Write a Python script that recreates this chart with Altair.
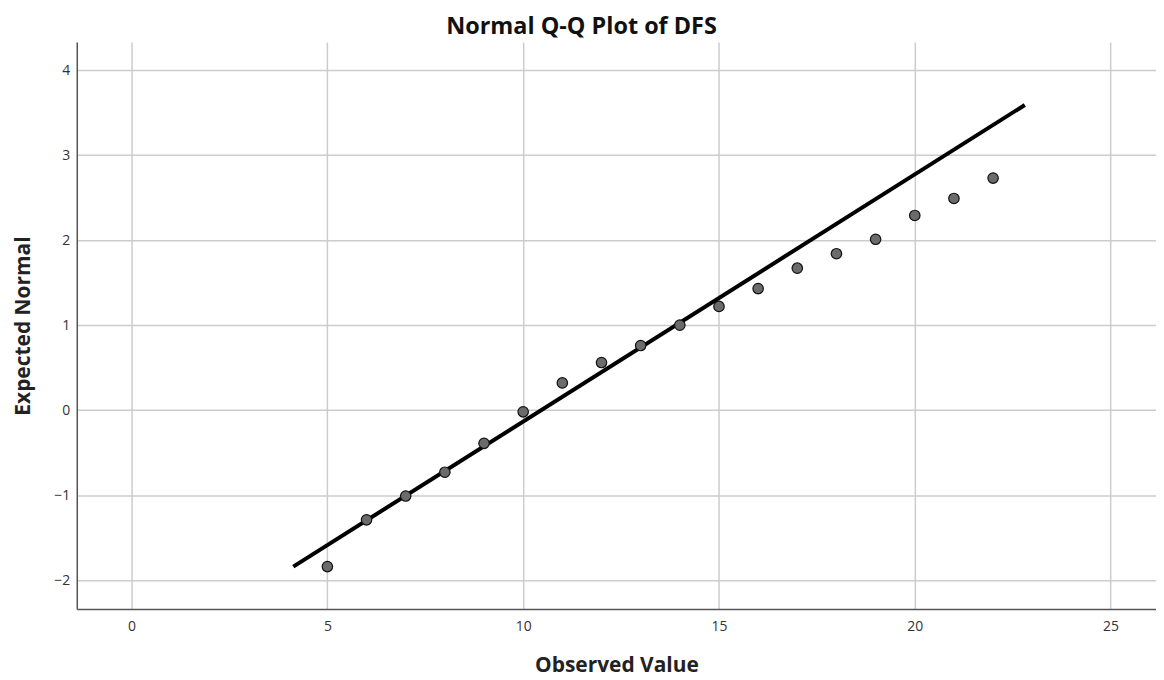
import altair as alt
import pandas as pd

observed = [5, 6, 7, 8, 9, 10, 11, 12, 13, 14, 15, 16, 17, 18, 19, 20, 21, 22]
expected = [-1.84, -1.29, -1.01, -0.73, -0.39, -0.02, 0.32, 0.56, 0.76, 1.00,
            1.22, 1.43, 1.67, 1.84, 2.01, 2.29, 2.49, 2.73]
line_x = [4.13, 22.81]
line_y = [-1.84, 3.59]

pts = pd.DataFrame({"obs": observed, "exp": expected})
ln = pd.DataFrame({"obs": line_x, "exp": line_y})

FONT = "Open Sans"
xs = alt.Scale(domain=[-1.4, 26.16], nice=False, zero=False)
ys = alt.Scale(domain=[-2.34, 4.33], nice=False, zero=False)

common = dict(grid=True, ticks=False, labelFontSize=14, titleFontSize=21,
              labelColor="#333333", titleColor="#222222", labelFont=FONT,
              titleFont=FONT, titleFontWeight="bold", domainColor="#555555",
              domainWidth=1.5, gridColor="#cccccc", gridWidth=1.5, format="d")
xax = alt.Axis(values=[0, 5, 10, 15, 20, 25], title="Observed Value",
               labelPadding=10, titlePadding=22, **common)
yax = alt.Axis(values=[-2, -1, 0, 1, 2, 3, 4], title="Expected Normal",
               labelPadding=7, titlePadding=20, **common)

line = alt.Chart(ln).mark_line(color="black", strokeWidth=4, clip=True).encode(
    x=alt.X("obs:Q", scale=xs, axis=xax),
    y=alt.Y("exp:Q", scale=ys, axis=yax),
)
points = alt.Chart(pts).mark_point(
    filled=True, shape="circle", size=110, fill="#6b6b6b", stroke="#111111",
    strokeWidth=1.2, opacity=1
).encode(
    x=alt.X("obs:Q", scale=xs),
    y=alt.Y("exp:Q", scale=ys),
)

chart = alt.layer(line, points).properties(
    width=1083, height=569,
    autosize=alt.AutoSizeParams(type="none"),
    padding={"left": 69, "top": 33, "right": 0, "bottom": 70},
    title=alt.TitleParams("Normal Q-Q Plot of DFS", font=FONT, fontSize=23.5,
                          fontWeight="bold", color="#111111", anchor="middle",
                          dx=-35, offset=4),
).configure_view(stroke=None)

chart.save("out.html", embed_options={"renderer": "svg", "actions": False})
